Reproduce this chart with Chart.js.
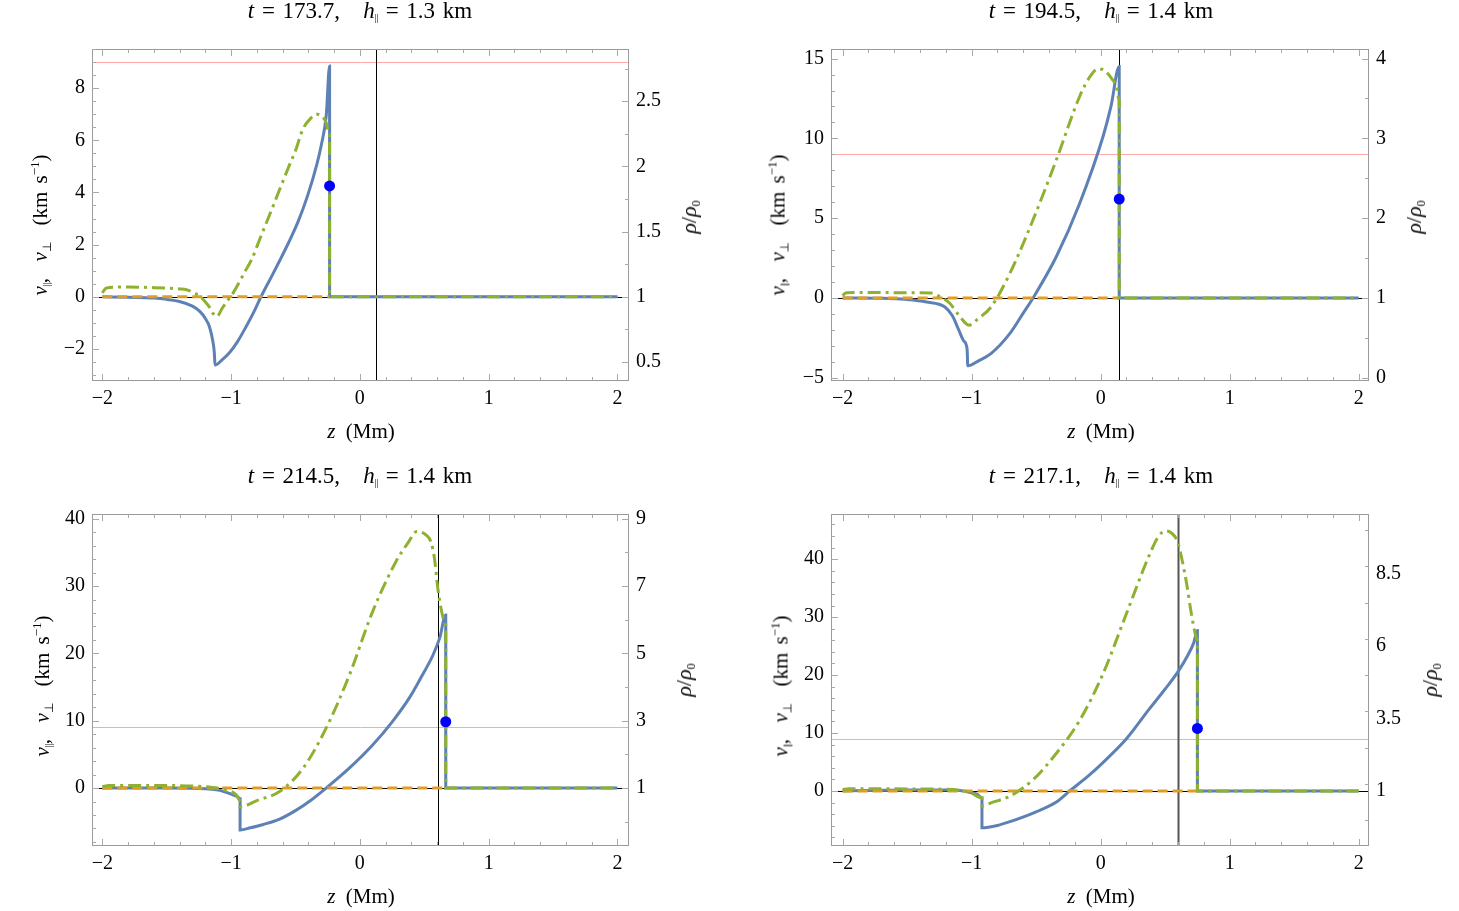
<!DOCTYPE html>
<html>
<head>
<meta charset="utf-8">
<script src="https://cdn.jsdelivr.net/npm/chart.js@4.4.1/dist/chart.umd.min.js"></script>
<style>
  body { margin: 0; background: #fff; width: 1459px; height: 911px; overflow: hidden; position: relative;
         font-family: 'Liberation Serif', 'Times New Roman', serif; color: #000; }
  canvas { position: absolute; }
  .lbl { position: absolute; white-space: nowrap; transform: translate(-50%, -50%); font-size: 21px; line-height: 1; }
  .ttl { font-size: 23px; word-spacing: 2px; }
  .rot { transform: translate(-50%, -50%) rotate(-90deg); font-size: 21px; word-spacing: 3px; }
  .rho { font-size: 22px; word-spacing: 0; }
  .lbl sub { font-size: 12px; vertical-align: -4px; }
  .lbl sub.par { font-size: 10px; letter-spacing: -0.5px; vertical-align: -3px; }
  .lbl sup { font-size: 13px; vertical-align: 8px; }
</style>
</head>
<body>
<canvas id="c1" width="730" height="455" style="left:0;top:0"></canvas>
<canvas id="c2" width="729" height="455" style="left:730px;top:0"></canvas>
<canvas id="c3" width="730" height="456" style="left:0;top:455px"></canvas>
<canvas id="c4" width="729" height="456" style="left:730px;top:455px"></canvas>
<script>
// ---- values ----
const times = ['173.7', '194.5', '214.5', '217.1'];
const hPar = ['1.3', '1.4', '1.4', '1.4'];

// panel 1, t = 173.7
const zPar1 = [-2.0, -1.8, -1.6, -1.5, -1.4, -1.3, -1.245, -1.2, -1.168, -1.142, -1.13, -1.125, -1.07, -1.013, -0.95, -0.884, -0.82, -0.768, -0.678, -0.623, -0.551, -0.478, -0.407, -0.333, -0.298, -0.261, -0.235, -0.235, 2.0];
const vPar1 = [0, -0.02, -0.05, -0.1, -0.18, -0.36, -0.55, -0.83, -1.15, -1.7, -2.15, -2.62, -2.42, -2.15, -1.72, -1.15, -0.55, 0, 0.85, 1.38, 2.1, 2.9, 3.86, 5.1, 5.85, 6.95, 8.85, 0, 0];
const zRho1 = [-2.0, -1.97, -1.9, -1.8, -1.6, -1.5, -1.4, -1.346, -1.3, -1.237, -1.2, -1.168, -1.142, -1.11, -1.07, -1.013, -0.985, -0.884, -0.841, -0.77, -0.696, -0.62, -0.551, -0.5, -0.443, -0.38, -0.334, -0.3, -0.262, -0.235, -0.235, 2.0];
const rho1 = [1.03, 1.066, 1.074, 1.074, 1.07, 1.066, 1.06, 1.054, 1.036, 1.0, 0.96, 0.92, 0.874, 0.848, 0.91, 0.99, 1.028, 1.208, 1.284, 1.46, 1.64, 1.83, 2.0, 2.12, 2.284, 2.37, 2.4, 2.39, 2.336, 2.24, 1.0, 1.0];

// panel 2, t = 194.5
const zPar2 = [-2.0, -1.7, -1.5, -1.35, -1.21, -1.15, -1.10, -1.06, -1.035, -1.03, -0.95, -0.848, -0.703, -0.6, -0.524, -0.343, -0.162, 0.018, 0.08, 0.144, 0.144, 2.0];
const vPar2 = [0, -0.02, -0.1, -0.25, -0.55, -1.1, -2.0, -2.7, -3.2, -4.25, -3.95, -3.47, -2.22, -0.95, 0, 2.6, 5.94, 10.1, 12.0, 14.5, 0, 0];
const zRho2 = [-2.0, -1.97, -1.8, -1.5, -1.317, -1.25, -1.17, -1.1, -1.02, -0.95, -0.848, -0.703, -0.524, -0.343, -0.162, -0.08, -0.018, 0.02, 0.09, 0.125, 0.144, 0.144, 2.0];
const rho2 = [1.03, 1.066, 1.07, 1.066, 1.062, 1.02, 0.934, 0.786, 0.66, 0.74, 0.89, 1.31, 1.98, 2.732, 3.528, 3.78, 3.87, 3.86, 3.74, 3.64, 3.48, 1.0, 1.0];

// panel 3, t = 214.5
const zPar3 = [-2.0, -1.5, -1.2, -1.1, -1.057, -1.0, -0.949, -0.93, -0.93, -0.85, -0.75, -0.623, -0.5, -0.38, -0.262, -0.08, 0.099, 0.25, 0.388, 0.48, 0.569, 0.62, 0.667, 0.667, 2.0];
const vPar3 = [0, 0, -0.1, -0.3, -0.5, -0.9, -1.3, -1.6, -6.24, -5.9, -5.4, -4.6, -3.35, -1.8, 0, 3.0, 6.4, 9.8, 13.5, 16.6, 19.8, 22.3, 25.7, 0, 0];
const zRho3 = [-2.0, -1.95, -1.6, -1.3, -1.15, -1.057, -0.96, -0.93, -0.93, -0.8, -0.623, -0.443, -0.262, -0.081, 0.099, 0.28, 0.38, 0.44, 0.52, 0.551, 0.58, 0.605, 0.641, 0.667, 0.667, 2.0];
const rho3 = [1.04, 1.08, 1.08, 1.06, 1.02, 0.95, 0.8, 0.62, 0.44, 0.63, 0.9, 1.58, 2.78, 4.36, 6.24, 7.72, 8.32, 8.62, 8.5, 8.32, 7.8, 6.94, 6.14, 5.84, 1.0, 1.0];

// panel 4, t = 217.1
const zPar4 = [-2.0, -1.5, -1.2, -1.065, -1.0, -0.956, -0.92, -0.92, -0.8, -0.703, -0.5, -0.343, -0.24, -0.1, 0.018, 0.2, 0.379, 0.5, 0.6, 0.68, 0.722, 0.75, 0.75, 2.0];
const vPar4 = [0, 0.15, 0.15, 0, -0.3, -0.6, -1.2, -6.35, -5.95, -5.3, -3.6, -1.9, 0, 2.5, 4.9, 9.0, 14.2, 17.6, 20.6, 23.6, 25.6, 27.7, 0, 0];
const zRho4 = [-2.0, -1.95, -1.5, -1.2, -1.065, -1.0, -0.92, -0.92, -0.85, -0.703, -0.524, -0.343, -0.162, 0.018, 0.198, 0.379, 0.45, 0.505, 0.55, 0.595, 0.63, 0.667, 0.70, 0.74, 0.75, 0.75, 2.0];
const rho4 = [1.04, 1.08, 1.07, 1.06, 1.0, 0.92, 0.76, 0.48, 0.59, 0.82, 1.388, 2.3, 3.44, 5.04, 7.1, 9.16, 9.8, 9.98, 9.9, 9.62, 9.0, 8.14, 7.2, 6.3, 6.2, 1.0, 1.0];

// v_perp (flat, up to the shock), shock marker, reference lines
const zPerpEnd = [-0.235, 0.144, 0.667, 0.75];
const vPerp = [0, 0];
const zDot = [-0.235, 0.144, 0.667, 0.75];
const vDot = [4.25, 6.2, 9.85, 10.8];
const zMark = [0.125, 0.144, 0.605, 0.602];
const vCrit = [9, 9, 9, 9];

// axes
const zTicks = [-2, -1, 0, 1, 2];
const zRanges = [[-2.08, 2.09], [-2.09, 2.08], [-2.08, 2.09], [-2.09, 2.08]];
const vRanges = [[-3.23, 9.5], [-5.2, 15.6], [-8.6, 40.7], [-9.5, 47.8]];
const vTicks = [[-2, 0, 2, 4, 6, 8], [-5, 0, 5, 10, 15], [0, 10, 20, 30, 40], [0, 10, 20, 30, 40]];
const rhoTicks = [[0.5, 1, 1.5, 2, 2.5], [0, 1, 2, 3, 4], [1, 3, 5, 7, 9], [1, 3.5, 6, 8.5]];
const vMinor = [0.5, 1, 2, 2];
const rhoMinor = [0.25, 0.5, 1, 1.25];
const zMinor = 0.2;

// density axis is tied to velocity axis: rho/rho0 = 1 + v/5
const rhoOfV = v => 1 + v / 5;

const BLUE = '#5e81b5', GREEN = '#8fb131', ORANGE = '#e19c24';
const FONT = {family: "'Liberation Serif', 'Times New Roman', serif", size: 20};

const pads = [
  {left: 32, right: 41, top: 49, bottom: 44},
  {left: 41, right: 30, top: 49, bottom: 44},
  {left: 32, right: 41, top: 59, bottom: 35},
  {left: 41, right: 30, top: 59, bottom: 35}
];

function stepValues(min, max, step) {
  const out = [];
  for (let k = Math.ceil(min / step - 1e-9); k * step <= max + 1e-9; k++) out.push(+(k * step).toFixed(6));
  return out;
}
const fmt = v => String(v).replace('-', '\u2212');

const frameTicks = {
  id: 'frameTicks',
  beforeDatasetsDraw(chart, args, o) {
    const {ctx, chartArea: a} = chart;
    const sx = chart.scales.x, sy = chart.scales.y, sr = chart.scales.y1;
    const line = (x1, y1, x2, y2) => { ctx.beginPath(); ctx.moveTo(x1, y1); ctx.lineTo(x2, y2); ctx.stroke(); };
    ctx.save();
    ctx.lineWidth = 1;
    // critical velocity line
    ctx.strokeStyle = '#ffa8a8';
    let py = Math.round(sy.getPixelForValue(o.crit)) + 0.5;
    line(a.left, py, a.right, py);
    // zero axis
    ctx.strokeStyle = '#000';
    py = Math.round(sy.getPixelForValue(0)) + 0.5;
    line(a.left, py, a.right, py);
    // vertical marker
    ctx.strokeStyle = o.markColor;
    ctx.lineWidth = o.markWidth;
    const pm = Math.round(sx.getPixelForValue(o.mark)) + 0.5;
    line(pm, a.top, pm, a.bottom);
    // frame
    ctx.lineWidth = 1;
    ctx.strokeStyle = '#9a9a9a';
    ctx.strokeRect(a.left + 0.5, a.top + 0.5, a.right - a.left - 1, a.bottom - a.top - 1);
    // inward ticks
    ctx.strokeStyle = '#a8a8a8';
    const isMajor = (v, list) => list.some(t => Math.abs(t - v) < 1e-6);
    stepValues(sx.min, sx.max, o.zMinor).forEach(v => {
      const len = isMajor(v, o.zTicks) ? 7 : 4;
      const p = Math.round(sx.getPixelForValue(v)) + 0.5;
      line(p, a.bottom, p, a.bottom - len);
      line(p, a.top, p, a.top + len);
    });
    stepValues(sy.min, sy.max, o.vMinor).forEach(v => {
      const len = isMajor(v, o.vTicks) ? 7 : 4;
      const p = Math.round(sy.getPixelForValue(v)) + 0.5;
      line(a.left, p, a.left + len, p);
    });
    stepValues(sr.min, sr.max, o.rhoMinor).forEach(v => {
      const len = isMajor(v, o.rhoTicks) ? 7 : 4;
      const p = Math.round(sr.getPixelForValue(v)) + 0.5;
      line(a.right, p, a.right - len, p);
    });
    ctx.restore();
  }
};

function pts(zs, vs) { return zs.map((z, k) => ({x: z, y: vs[k]})); }

function buildPanel(i, zPar, vPar, zRho, rho) {
  const setTicks = list => scale => { scale.ticks = list.map(v => ({value: v})); };
  new Chart(document.getElementById('c' + (i + 1)), {
    type: 'line',
    data: {
      datasets: [
        {label: 'front', data: pts([zDot[i]], [vDot[i]]), yAxisID: 'y', showLine: false,
         pointRadius: 5.5, pointBackgroundColor: '#0000ff', pointBorderWidth: 0},
        {label: 'rho', data: pts(zRho, rho), yAxisID: 'y1', borderColor: GREEN, borderWidth: 3,
         borderDash: [13, 5, 3, 5], pointRadius: 0, cubicInterpolationMode: 'monotone'},
        {label: 'vperp', data: pts([zRho[0], zPerpEnd[i]], vPerp), yAxisID: 'y', borderColor: ORANGE,
         borderWidth: 3, borderDash: [10, 5], pointRadius: 0},
        {label: 'vpar', data: pts(zPar, vPar), yAxisID: 'y', borderColor: BLUE, borderWidth: 3,
         pointRadius: 0, cubicInterpolationMode: 'monotone'}
      ]
    },
    options: {
      responsive: false,
      animation: false,
      devicePixelRatio: 1,
      events: [],
      layout: {padding: pads[i]},
      plugins: {
        legend: {display: false},
        tooltip: {enabled: false},
        frameTicks: {
          crit: vCrit[i], mark: zMark[i],
          markColor: i === 3 ? '#555' : '#000', markWidth: i === 3 ? 2 : 1,
          zTicks: zTicks, zMinor: zMinor, vTicks: vTicks[i], vMinor: vMinor[i],
          rhoTicks: rhoTicks[i], rhoMinor: rhoMinor[i]
        }
      },
      scales: {
        x: {
          type: 'linear', position: 'bottom', min: zRanges[i][0], max: zRanges[i][1],
          afterBuildTicks: setTicks(zTicks),
          afterFit: s => { s.height = 30; },
          grid: {display: false, drawTicks: false}, border: {display: false},
          ticks: {font: FONT, color: '#000', padding: 6, autoSkip: false, maxRotation: 0, callback: fmt}
        },
        y: {
          type: 'linear', position: 'left', min: vRanges[i][0], max: vRanges[i][1],
          afterBuildTicks: setTicks(vTicks[i]),
          afterFit: s => { s.width = 60; },
          grid: {display: false, drawTicks: false}, border: {display: false},
          ticks: {font: FONT, color: '#000', padding: 7, autoSkip: false, callback: fmt}
        },
        y1: {
          type: 'linear', position: 'right', min: rhoOfV(vRanges[i][0]), max: rhoOfV(vRanges[i][1]),
          afterBuildTicks: setTicks(rhoTicks[i]),
          afterFit: s => { s.width = 60; },
          grid: {display: false, drawTicks: false}, border: {display: false},
          ticks: {font: FONT, color: '#000', padding: 7, autoSkip: false, callback: fmt}
        }
      }
    },
    plugins: [frameTicks]
  });
}

buildPanel(0, zPar1, vPar1, zRho1, rho1);
buildPanel(1, zPar2, vPar2, zRho2, rho2);
buildPanel(2, zPar3, vPar3, zRho3, rho3);
buildPanel(3, zPar4, vPar4, zRho4, rho4);

// ---- text labels (titles and axis names) ----
const titlePos = [[360, 11], [1101, 11], [360, 476], [1101, 476]];
const zLabPos = [[361, 431], [1101, 431], [361, 896], [1101, 896]];
const vLabPos = [[40, 225], [778, 225], [42, 686], [781, 686]];
const rLabPos = [[690, 217], [1415, 217], [685, 680], [1431, 680]];

function addLabel(html, pos, cls) {
  const d = document.createElement('div');
  d.className = 'lbl ' + cls;
  d.innerHTML = html;
  d.style.left = pos[0] + 'px';
  d.style.top = pos[1] + 'px';
  document.body.appendChild(d);
}
for (let i = 0; i < 4; i++) {
  addLabel('<i>t</i> = ' + times[i] + ',&nbsp;&nbsp; <i>h</i><sub class="par">||</sub> = ' + hPar[i] + ' km', titlePos[i], 'ttl');
  addLabel('<i>z</i>&nbsp; (Mm)', zLabPos[i], '');
  addLabel('<i>v</i><sub class="par">||</sub>,&nbsp; <i>v</i><sub>\u22a5</sub>&nbsp;&nbsp;(km s<sup>\u22121</sup>)', vLabPos[i], 'rot');
  addLabel('<i>\u03c1</i>/<i>\u03c1</i><sub>0</sub>', rLabPos[i], 'rot rho');
}
</script>
</body>
</html>
